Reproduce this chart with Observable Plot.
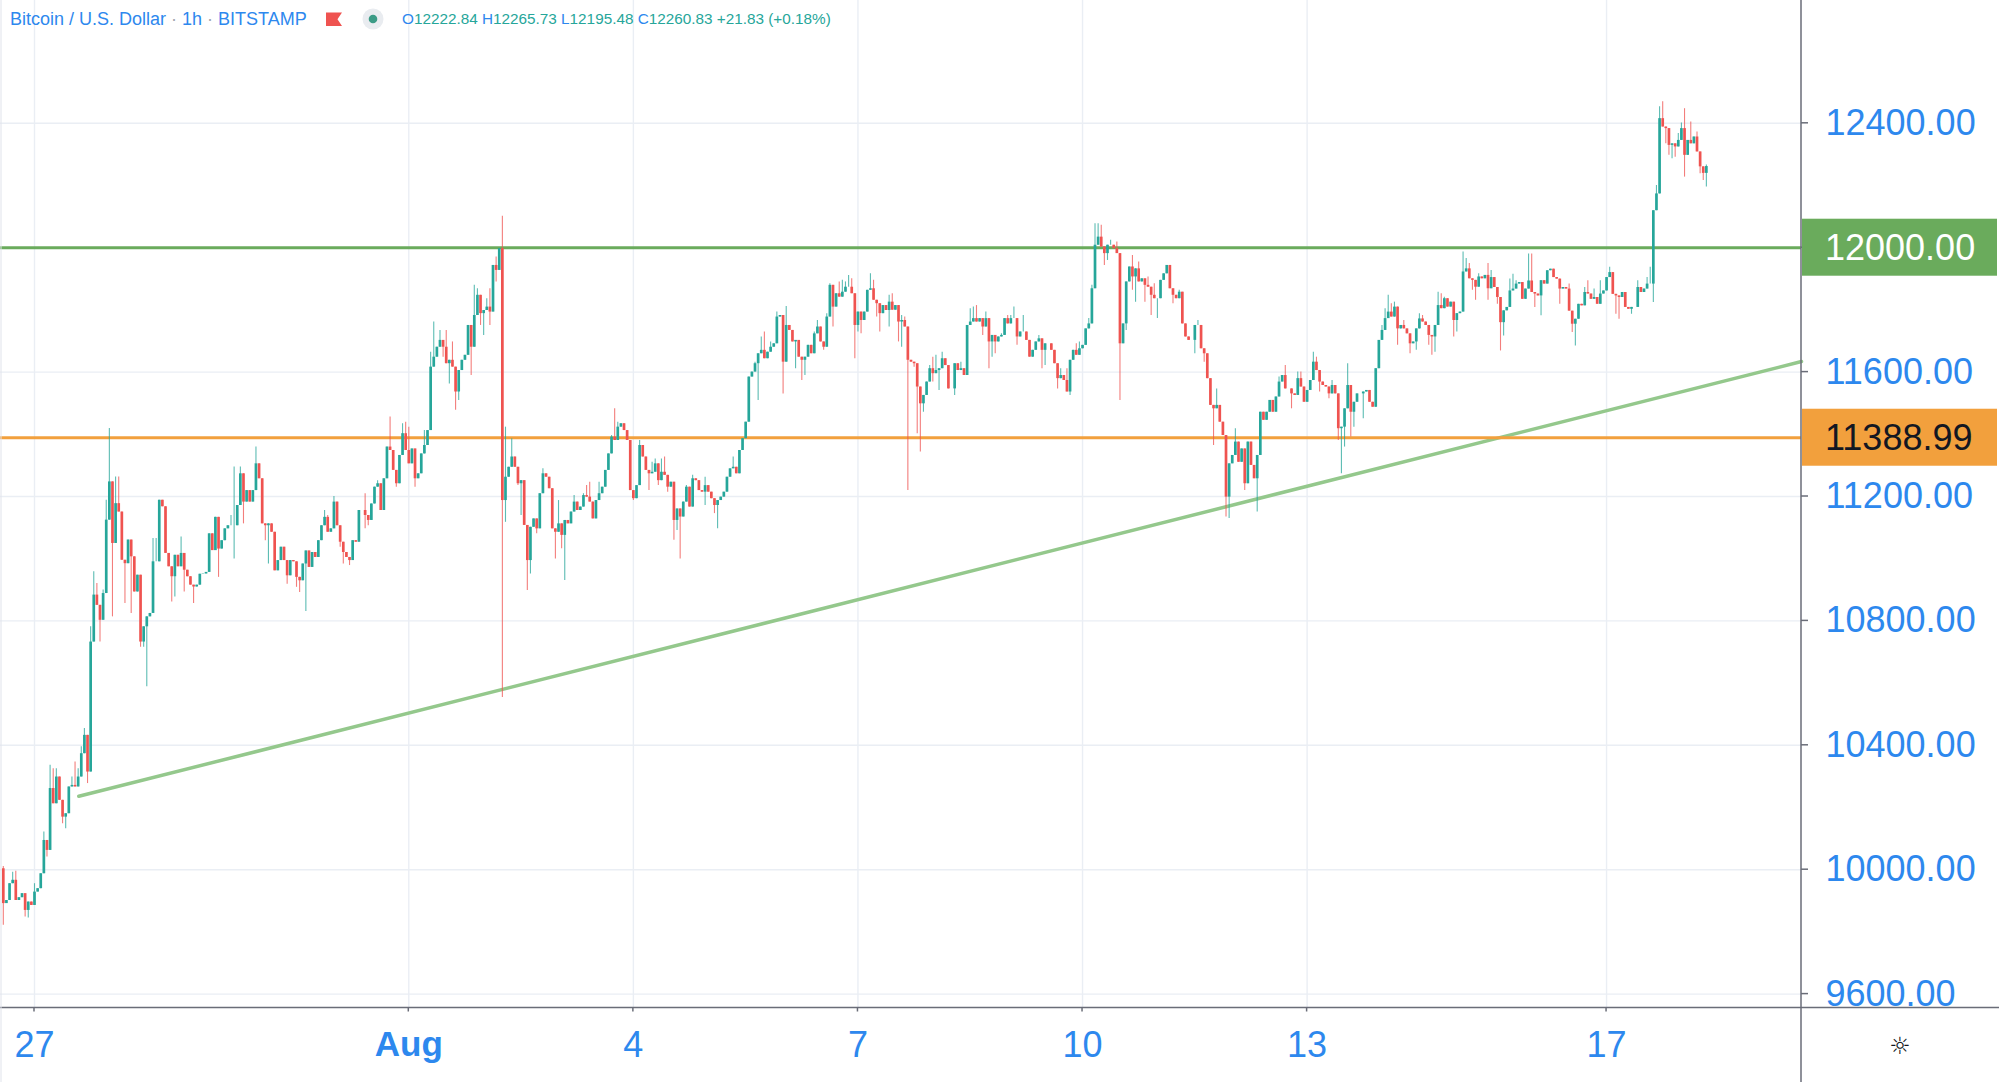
<!DOCTYPE html>
<html><head><meta charset="utf-8">
<script src="https://cdn.jsdelivr.net/npm/d3@7"></script>
<script src="https://cdn.jsdelivr.net/npm/@observablehq/plot@0.6"></script>
<style>
html,body{margin:0;padding:0;background:#fff;}
#chart{width:1999px;height:1082px;overflow:hidden;}
</style></head><body><div id="chart"></div>
<script>
// ---------- data (hourly closes, BTC/USD, Bitstamp) ----------
const firstOpen = 10003;
const jul26 = [9891, 9901, 9955, 9966, 9901, 9910, 9923, 9869, 9896, 9885]; // from 14:00
const jul27 = [9928, 9939, 9987, 10094, 10062, 10261, 10212, 10298, 10223, 10169, 10180, 10266, 10271, 10266, 10298, 10373, 10432, 10314, 10732, 10883, 10850, 10802, 10888, 11124];
const jul28 = [11247, 11049, 11177, 11150, 10995, 10984, 11060, 11006, 10893, 10947, 10732, 10781, 10813, 10824, 10990, 10990, 11188, 11167, 11017, 10974, 10942, 11011, 10974, 11017];
const jul29 = [10963, 10942, 10915, 10909, 10915, 10950, 10951, 10956, 11080, 11026, 11133, 11031, 11058, 11096, 11106, 11106, 11106, 11171, 11273, 11182, 11219, 11182, 11219, 11305];
const jul30 = [11257, 11112, 11106, 11112, 11085, 10961, 10994, 11037, 10994, 10945, 10994, 10990, 10940, 10929, 10983, 11025, 10972, 11020, 11004, 11058, 11106, 11133, 11085, 11096];
const jul31 = [11182, 11106, 11053, 11020, 11004, 10994, 11058, 11053, 11155, 11155, 11139, 11123, 11176, 11230, 11241, 11155, 11257, 11359, 11348, 11284, 11241, 11332, 11402, 11348];
const aug01 = [11305, 11353, 11257, 11273, 11337, 11364, 11412, 11616, 11648, 11680, 11702, 11680, 11627, 11638, 11616, 11536, 11605, 11638, 11654, 11750, 11680, 11782, 11847, 11788];
const aug02 = [11798, 11809, 11793, 11943, 11927, 11997, 11187, 11262, 11294, 11327, 11294, 11241, 11251, 11107, 10994, 11101, 11128, 11096, 11209, 11273, 11262, 11225, 11096, 11085];
const aug03 = [11112, 11075, 11123, 11112, 11150, 11182, 11155, 11166, 11203, 11198, 11182, 11128, 11187, 11209, 11230, 11284, 11337, 11391, 11380, 11423, 11434, 11412, 11380, 11219];
const aug04 = [11193, 11235, 11364, 11327, 11284, 11273, 11278, 11305, 11251, 11278, 11268, 11230, 11246, 11123, 11160, 11134, 11182, 11230, 11166, 11257, 11251, 11219, 11214, 11235];
const aug05 = [11214, 11193, 11171, 11187, 11198, 11214, 11262, 11289, 11294, 11273, 11348, 11386, 11439, 11584, 11600, 11627, 11659, 11670, 11643, 11664, 11680, 11691, 11777, 11782];
const aug06 = [11632, 11750, 11734, 11697, 11702, 11648, 11638, 11648, 11686, 11659, 11723, 11745, 11697, 11680, 11777, 11879, 11809, 11852, 11841, 11857, 11873, 11873, 11852, 11750];
const aug07 = [11793, 11766, 11793, 11863, 11868, 11831, 11820, 11788, 11814, 11798, 11825, 11799, 11814, 11761, 11766, 11745, 11638, 11632, 11627, 11552, 11498, 11525, 11568, 11611];
const aug08 = [11595, 11605, 11611, 11643, 11621, 11546, 11546, 11627, 11605, 11611, 11589, 11750, 11761, 11772, 11761, 11772, 11745, 11772, 11697, 11718, 11697, 11713, 11718, 11772];
const aug09 = [11755, 11772, 11772, 11713, 11729, 11729, 11702, 11648, 11670, 11697, 11707, 11670, 11691, 11691, 11670, 11627, 11579, 11589, 11573, 11536, 11638, 11670, 11654, 11675];
const aug10 = [11686, 11739, 11755, 11868, 12008, 12034, 12002, 11981, 12008, 12008, 11997, 11981, 11691, 11755, 11890, 11938, 11906, 11932, 11890, 11900, 11879, 11873, 11847, 11836];
const aug11 = [11836, 11895, 11916, 11943, 11868, 11847, 11836, 11857, 11755, 11713, 11702, 11702, 11750, 11750, 11675, 11659, 11579, 11493, 11482, 11493, 11439, 11396, 11198, 11305];
const aug12 = [11332, 11375, 11310, 11353, 11241, 11375, 11300, 11257, 11332, 11471, 11445, 11471, 11509, 11471, 11520, 11568, 11589, 11546, 11546, 11530, 11525, 11579, 11552, 11503];
const aug13 = [11541, 11573, 11632, 11605, 11568, 11557, 11552, 11530, 11557, 11530, 11418, 11423, 11482, 11557, 11471, 11503, 11530, 11530, 11536, 11541, 11503, 11487, 11611, 11702];
const aug14 = [11734, 11772, 11793, 11777, 11809, 11739, 11750, 11739, 11723, 11691, 11697, 11739, 11771, 11761, 11750, 11718, 11713, 11750, 11814, 11804, 11836, 11809, 11825, 11766];
const aug15 = [11788, 11793, 11922, 11932, 11900, 11895, 11873, 11906, 11900, 11911, 11868, 11904, 11872, 11840, 11759, 11797, 11808, 11861, 11867, 11883, 11888, 11834, 11867, 11893];
const aug16 = [11856, 11851, 11845, 11894, 11883, 11926, 11931, 11904, 11899, 11867, 11872, 11867, 11796, 11754, 11770, 11818, 11813, 11856, 11851, 11834, 11840, 11818, 11851, 11861];
const aug17 = [11904, 11920, 11850, 11845, 11840, 11856, 11808, 11802, 11808, 11808, 11872, 11856, 11867, 11883, 11883, 12119, 12173, 12415, 12388, 12383, 12329, 12334, 12324, 12345];
const aug18 = [12383, 12297, 12345, 12334, 12356, 12308, 12260, 12239, 12261];

const dayCloses = [
  ["2020-07-26", 14, jul26], ["2020-07-27", 0, jul27], ["2020-07-28", 0, jul28], ["2020-07-29", 0, jul29],
  ["2020-07-30", 0, jul30], ["2020-07-31", 0, jul31], ["2020-08-01", 0, aug01], ["2020-08-02", 0, aug02],
  ["2020-08-03", 0, aug03], ["2020-08-04", 0, aug04], ["2020-08-05", 0, aug05], ["2020-08-06", 0, aug06],
  ["2020-08-07", 0, aug07], ["2020-08-08", 0, aug08], ["2020-08-09", 0, aug09], ["2020-08-10", 0, aug10],
  ["2020-08-11", 0, aug11], ["2020-08-12", 0, aug12], ["2020-08-13", 0, aug13], ["2020-08-14", 0, aug14],
  ["2020-08-15", 0, aug15], ["2020-08-16", 0, aug16], ["2020-08-17", 0, aug17], ["2020-08-18", 0, aug18]
];

// notable wicks: [hour since 27 Jul 00:00 UTC, price]
const wickHighs = [[-10,10010],[-7,9992],[-6,9995],[0,9955],[3,10121],[5,10336],[6,10325],[7,10325],[12,10298],[13,10346],[14,10325],[15,10395],[16,10454],[18,10781],[19,10958],[20,10920],[22,10899],[23,11188],[24,11419],[26,11263],[27,11263],[38,11065],[39,11065],[47,11070],[63,11139],[64,11295],[66,11295],[71,11359],[72,11283],[93,11155],[94,11139],[96,11200],[106,11209],[110,11251],[114,11456],[118,11434],[119,11439],[120,11423],[125,11412],[127,11664],[128,11761],[130,11734],[132,11734],[134,11697],[141,11879],[142,11868],[145,11836],[146,11868],[148,11970],[150,12101],[151,11423],[153,11386],[163,11289],[168,11187],[173,11203],[176,11209],[177,11235],[178,11246],[181,11246],[185,11396],[186,11482],[187,11439],[194,11380],[198,11310],[199,11321],[201,11321],[202,11327],[209,11235],[211,11268],[215,11262],[224,11327],[228,11439],[231,11632],[233,11713],[234,11729],[236,11697],[238,11793],[241,11811],[250,11729],[251,11766],[254,11788],[255,11884],[258,11890],[259,11895],[260,11890],[261,11911],[262,11900],[268,11916],[269,11895],[274,11847],[275,11852],[277,11814],[278,11782],[279,11777],[287,11621],[288,11648],[289,11654],[291,11664],[297,11632],[300,11804],[301,11809],[302,11814],[305,11793],[310,11723],[312,11782],[313,11782],[314,11809],[317,11782],[322,11718],[329,11611],[331,11611],[333,11664],[334,11691],[335,11697],[338,11772],[339,11879],[340,12077],[341,12077],[342,12072],[345,12024],[347,12018],[352,11975],[354,11954],[357,11906],[359,11884],[363,11943],[367,11863],[373,11766],[379,11546],[385,11418],[399,11584],[401,11621],[405,11600],[406,11600],[410,11664],[411,11648],[416,11573],[421,11627],[430,11546],[432,11750],[433,11804],[434,11847],[435,11820],[436,11825],[439,11766],[444,11788],[445,11782],[450,11857],[451,11852],[452,11841],[458,11986],[459,11965],[460,11949],[463,11916],[466,11949],[467,11927],[473,11899],[474,11915],[475,11894],[479,11980],[480,11980],[492,11883],[497,11872],[498,11894],[500,11867],[502,11894],[505,11937],[514,11894],[517,11904],[518,11937],[520,12200],[521,12453],[522,12469],[527,12367],[528,12401],[529,12447],[531,12404],[533,12372],[536,12266]];
const wickLows = [[-10,9821],[-3,9848],[-2,9845],[4,10041],[9,10148],[10,10132],[17,10277],[21,10732],[25,10813],[29,10856],[31,10824],[34,10715],[35,10715],[36,10588],[44,10861],[45,10877],[48,10893],[51,10856],[59,10940],[64,10999],[67,11112],[74,11058],[75,10983],[81,10918],[84,10908],[85,10891],[87,10830],[98,11037],[99,10983],[101,10978],[106,11096],[107,11106],[116,11230],[122,11230],[131,11648],[133,11562],[135,11477],[136,11509],[140,11589],[143,11750],[144,11718],[146,11750],[148,11890],[150,10554],[151,11117],[155,11235],[156,11139],[158,10898],[159,10951],[161,11080],[167,10999],[169,11032],[170,10930],[192,11187],[197,11219],[200,11235],[203,11214],[205,11059],[206,11091],[207,10999],[215,11171],[218,11145],[219,11096],[232,11509],[240,11530],[244,11611],[246,11573],[247,11589],[253,11670],[256,11745],[263,11643],[264,11729],[265,11723],[270,11777],[271,11729],[274,11745],[277,11697],[278,11680],[280,11219],[282,11616],[283,11402],[284,11343],[285,11471],[288,11568],[290,11541],[295,11525],[304,11718],[306,11611],[307,11648],[308,11659],[315,11686],[323,11611],[324,11621],[328,11546],[332,11525],[343,11943],[344,11959],[348,11509],[349,11691],[350,11734],[352,11863],[353,11825],[356,11825],[358,11782],[360,11772],[365,11820],[372,11659],[375,11632],[378,11364],[382,11134],[383,11129],[388,11219],[392,11150],[403,11482],[412,11536],[415,11514],[418,11380],[419,11273],[420,11359],[422,11391],[423,11423],[426,11450],[437,11686],[441,11659],[443,11670],[447,11686],[448,11654],[449,11664],[455,11713],[456,11729],[461,11863],[462,11831],[466,11831],[469,11818],[470,11668],[471,11716],[481,11808],[483,11781],[489,11818],[493,11727],[494,11684],[507,11786],[508,11770],[512,11786],[519,11824],[523,12334],[524,12297],[525,12286],[526,12291],[529,12227],[534,12238],[535,12216],[536,12195]];

const levels = [12000, 11388.99];
const levelLabels = ["12000.00", "11388.99"];
const levelColors = ["#6aab5c", "#f2a03d"];
const levelTextColors = ["#ffffff", "#131722"];
const trendLine = [["2020-07-27T14:12Z", 10236], ["2020-08-19T14:30Z", 11634]];
const priceTicks = [9600, 10000, 10400, 10800, 11200, 11600, 12000, 12400];
const xTickDates = ["2020-07-27", "2020-08-01", "2020-08-04", "2020-08-07", "2020-08-10", "2020-08-13", "2020-08-17"];
const xTickLabels = ["27", "Aug", "4", "7", "10", "13", "17"];
const titleParts = ["Bitcoin / U.S. Dollar", "1h", "BITSTAMP"];
const ohlcKeys = ["O", "H", "L", "C"];
const ohlcVals = ["12222.84", "12265.73", "12195.48", "12260.83"];
const changeText = "+21.83 (+0.18%)";

// ---------- build candles ----------
const T0 = Date.UTC(2020, 6, 27);
const HOUR = 3600000;
const hiMap = new Map(wickHighs), loMap = new Map(wickLows);
const candles = [];
let prev = firstOpen;
for (const [day, startHour, closes] of dayCloses) {
  const base = Date.parse(day + "T00:00:00Z");
  closes.forEach((c, i) => {
    const t = base + (startHour + i) * HOUR;
    const h = Math.round((t - T0) / HOUR);
    const o = prev;
    const hi = Math.max(o, c, hiMap.has(h) ? hiMap.get(h) : -Infinity);
    const lo = Math.min(o, c, loMap.has(h) ? loMap.get(h) : Infinity);
    candles.push({date: new Date(t), open: o, close: c, high: hi, low: lo, color: c >= o ? "#26a69a" : "#ef5350"});
    prev = c;
  });
}

// ---------- layout ----------
const W = 1999, HGT = 1082, mR = 198, mB = 74.5;
const blue = "#2d88ee";
const font = "'Liberation Sans', Arial, sans-serif";
const xTicks = xTickDates.map(d => new Date(d + "T00:00:00Z"));
// price labels hidden behind a level box are not drawn (as in the reference)
const shownPriceLabels = priceTicks.filter(p => !levels.some(v => Math.abs(v - p) < 1));

const chart = Plot.plot({
  width: W, height: HGT,
  marginTop: 0, marginLeft: 0, marginRight: mR, marginBottom: mB,
  x: {type: "utc", domain: [new Date(T0 - 10.9 * HOUR), new Date(T0 + 566.5 * HOUR)], axis: null},
  y: {domain: [9555.3, 12794.9], axis: null},
  color: {type: "identity"},
  style: {fontFamily: font, background: "#fff", overflow: "visible"},
  marks: [
    Plot.ruleX(xTicks, {stroke: "#eaeef4", strokeWidth: 1.4}),
    Plot.ruleY(priceTicks, {stroke: "#eaeef4", strokeWidth: 1.4}),
    Plot.line(trendLine, {x: d => new Date(d[0]), y: d => d[1], stroke: "#94c88c", strokeWidth: 3.5}),
    Plot.ruleY([levels[0]], {stroke: levelColors[0], strokeWidth: 3}),
    Plot.ruleY([levels[1]], {stroke: levelColors[1], strokeWidth: 3}),
    Plot.ruleX(candles, {x: "date", y1: "low", y2: "high", stroke: "color", strokeWidth: 1.1, strokeOpacity: 0.75}),
    Plot.ruleX(candles, {x: "date", y1: "open", y2: "close", stroke: "color", strokeWidth: 2.7}),
    Plot.text(shownPriceLabels, {y: d => d, text: d => d.toFixed(2), frameAnchor: "right", dx: 24, textAnchor: "start", lineAnchor: "middle", fontSize: 36, fill: blue}),
    Plot.text(xTicks.filter((d, i) => xTickLabels[i] !== "Aug"), {x: d => d, text: d => xTickLabels[xTicks.indexOf(d)], frameAnchor: "bottom", dy: 37, lineAnchor: "middle", fontSize: 36, fill: blue}),
    Plot.text(xTicks.filter((d, i) => xTickLabels[i] === "Aug"), {x: d => d, text: d => xTickLabels[xTicks.indexOf(d)], frameAnchor: "bottom", dy: 37, lineAnchor: "middle", fontSize: 35, fontWeight: "bold", fill: blue})
  ]
});

// ---------- decorations drawn from the plot's own scales ----------
const svg = d3.select(chart);
const xs = chart.scale("x"), ysc = chart.scale("y");
const xS = d3.scaleUtc(xs.domain, xs.range);
const yS = d3.scaleLinear(ysc.domain, ysc.range);
const xr = W - mR, yb = HGT - mB;
const deco = svg.append("g").attr("font-family", font).attr("text-anchor", "start");

// cover of the price scale below the pane (clips the 9600 label)
deco.append("rect").attr("x", xr + 1).attr("y", yb).attr("width", mR).attr("height", mB).attr("fill", "#fff");
// frame lines
deco.append("line").attr("x1", 0).attr("x2", W).attr("y1", yb).attr("y2", yb).attr("stroke", "#6a6d78").attr("stroke-width", 1.5);
deco.append("line").attr("x1", xr).attr("x2", xr).attr("y1", 0).attr("y2", HGT).attr("stroke", "#6a6d78").attr("stroke-width", 1.5);
deco.append("line").attr("x1", 1).attr("x2", 1).attr("y1", 0).attr("y2", HGT).attr("stroke", "#e0e3eb").attr("stroke-width", 1);
// ticks
xTicks.forEach(d => deco.append("line").attr("x1", xS(d)).attr("x2", xS(d)).attr("y1", yb).attr("y2", yb + 4).attr("stroke", "#6a6d78").attr("stroke-width", 1.5));
priceTicks.forEach(p => deco.append("line").attr("x1", xr).attr("x2", xr + 7).attr("y1", yS(p)).attr("y2", yS(p)).attr("stroke", "#6a6d78").attr("stroke-width", 1.5));
// level labels
levels.forEach((v, i) => {
  const y = yS(v);
  deco.append("rect").attr("x", xr + 1).attr("y", y - 28.5).attr("width", mR - 3).attr("height", 57).attr("fill", levelColors[i]);
  deco.append("text").attr("x", xr + 24).attr("y", y).attr("dy", "0.36em").attr("text-anchor", "start")
    .attr("font-size", 36).attr("fill", levelTextColors[i]).text(levelLabels[i]);
});
// settings icon
deco.append("text").attr("x", 1900).attr("y", yb + 38).attr("dy", "0.35em").attr("text-anchor", "middle")
  .attr("font-family", "'DejaVu Sans', sans-serif").attr("font-size", 24).attr("fill", "#131722").text("☼");

// header legend
const hdr = svg.append("g").attr("font-family", font).attr("text-anchor", "start");
const title = hdr.append("text").attr("x", 10).attr("y", 19).attr("dy", "0.35em").attr("text-anchor", "start")
  .attr("font-size", 18).attr("fill", blue);
titleParts.forEach((p, i) => {
  if (i) title.append("tspan").attr("fill", "#a3a6af").text(" · ");
  title.append("tspan").text(p);
});
hdr.append("path").attr("d", "M326,12.5H342L337.5,19.3L342,26H326Z").attr("fill", "#ef5350");
hdr.append("circle").attr("cx", 373).attr("cy", 19).attr("r", 10.5).attr("fill", "#e9ecf0");
hdr.append("circle").attr("cx", 373).attr("cy", 19).attr("r", 4.3).attr("fill", "#3b9b86");
const ohlc = hdr.append("text").attr("x", 402).attr("y", 19).attr("dy", "0.35em").attr("text-anchor", "start")
  .attr("font-size", 15.3).attr("fill", "#26a69a");
ohlcKeys.forEach((k, i) => {
  ohlc.append("tspan").attr("fill", blue).text((i ? " " : "") + k);
  ohlc.append("tspan").text(ohlcVals[i]);
});
ohlc.append("tspan").text(" " + changeText);

document.getElementById("chart").appendChild(chart);
</script>
</body></html>
